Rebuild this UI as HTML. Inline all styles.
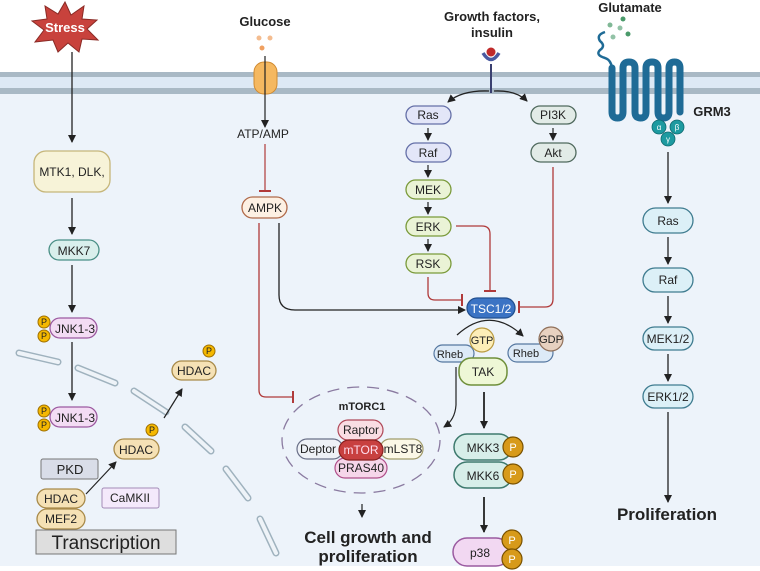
<!DOCTYPE html>
<html><head><meta charset="utf-8"><style>
html,body{margin:0;padding:0;background:#fff}
svg{display:block}
text{font-family:"Liberation Sans",sans-serif;fill:#222}
.b{font-weight:bold}
</style></head><body>
<svg width="760" height="571" viewBox="0 0 760 571" xmlns="http://www.w3.org/2000/svg">
<defs>
<marker id="a" markerWidth="8" markerHeight="8" refX="7" refY="4" orient="auto" markerUnits="userSpaceOnUse"><path d="M0,0 L8,4 L0,8 z" fill="#222"/></marker>
<marker id="t" markerWidth="2" markerHeight="12" refX="1" refY="6" orient="auto" markerUnits="userSpaceOnUse"><rect x="0" y="0" width="2" height="12" fill="#b03a3a"/></marker>
</defs>
<rect x="0" y="0" width="760" height="566" fill="#edf3fa"/>
<rect x="0" y="0" width="760" height="72" fill="#fff"/>
<rect x="0" y="72" width="760" height="22" fill="#dde9f5"/>
<rect x="0" y="72" width="760" height="5" fill="#a9b9c5"/>
<rect x="0" y="88" width="760" height="6" fill="#a9b9c5"/>

<!-- nuclear envelope -->
<g stroke-linecap="round">
<g stroke="#9fb2be" stroke-width="7">
<line x1="19" y1="353" x2="58" y2="362"/><line x1="78" y1="368" x2="115" y2="383"/><line x1="134" y1="391" x2="166" y2="412"/><line x1="185" y1="427" x2="211" y2="451"/><line x1="226" y1="469" x2="248" y2="498"/><line x1="260" y1="519" x2="276" y2="553"/>
</g>
<g stroke="#eef3f8" stroke-width="4">
<line x1="19" y1="353" x2="58" y2="362"/><line x1="78" y1="368" x2="115" y2="383"/><line x1="134" y1="391" x2="166" y2="412"/><line x1="185" y1="427" x2="211" y2="451"/><line x1="226" y1="469" x2="248" y2="498"/><line x1="260" y1="519" x2="276" y2="553"/>
</g></g>

<!-- Stress -->
<polygon points="65,2 71,15 84,6 82,19 97,20 87,29 98,40 82,39 79,52 68,43 58,52 53,40 35,42 44,30 32,21 47,19 45,6 58,14" fill="#c8423c" stroke="#8a2a25" stroke-width="1"/>
<text x="65" y="32" font-size="13" class="b" text-anchor="middle" style="fill:#fff">Stress</text>
<line x1="72" y1="52" x2="72" y2="142" stroke="#222" stroke-width="1.3" marker-end="url(#a)"/>
<rect x="34" y="151" width="76" height="41" rx="12" fill="#f7f3d8" stroke="#c6b67a" stroke-width="1.3"/>
<text x="72" y="176" font-size="12" text-anchor="middle">MTK1, DLK,</text>
<line x1="72" y1="198" x2="72" y2="234" stroke="#222" stroke-width="1.3" marker-end="url(#a)"/>
<rect x="49" y="240" width="50" height="20" rx="10" fill="#d9efec" stroke="#4a8f86" stroke-width="1.3"/>
<text x="74" y="255" font-size="12" text-anchor="middle">MKK7</text>
<line x1="72" y1="265" x2="72" y2="312" stroke="#222" stroke-width="1.3" marker-end="url(#a)"/>
<rect x="50" y="318" width="47" height="20" rx="10" fill="#f3dcf4" stroke="#9c5aa0" stroke-width="1.3"/>
<text x="75" y="333" font-size="12" text-anchor="middle">JNK1-3</text>
<line x1="72" y1="342" x2="72" y2="400" stroke="#222" stroke-width="1.3" marker-end="url(#a)"/>
<rect x="50" y="407" width="47" height="20" rx="10" fill="#f3dcf4" stroke="#9c5aa0" stroke-width="1.3"/>
<text x="75" y="422" font-size="12" text-anchor="middle">JNK1-3</text>
<g fill="#f5b800" stroke="#a07000" stroke-width="1">
<circle cx="44" cy="322" r="6"/><circle cx="44" cy="336" r="6"/><circle cx="44" cy="411" r="6"/><circle cx="44" cy="425" r="6"/>
<circle cx="152" cy="430" r="6"/><circle cx="209" cy="351" r="6"/></g>
<g font-size="9" text-anchor="middle"><text x="44" y="325">P</text><text x="44" y="339">P</text><text x="44" y="414">P</text><text x="44" y="428">P</text><text x="152" y="433">P</text><text x="209" y="354">P</text></g>
<rect x="172" y="361" width="44" height="19" rx="9.5" fill="#f5e1b5" stroke="#a88a4a" stroke-width="1.3"/>
<text x="194" y="375" font-size="12" text-anchor="middle">HDAC</text>
<rect x="114" y="439" width="45" height="20" rx="10" fill="#f5e1b5" stroke="#a88a4a" stroke-width="1.3"/>
<text x="136" y="454" font-size="12" text-anchor="middle">HDAC</text>
<rect x="41" y="459" width="57" height="20" rx="2" fill="#d9dde8" stroke="#777" stroke-width="1"/>
<text x="70" y="474" font-size="13" text-anchor="middle">PKD</text>
<rect x="37" y="489" width="48" height="19" rx="9.5" fill="#f5e1b5" stroke="#a88a4a" stroke-width="1.3"/>
<text x="61" y="503" font-size="12" text-anchor="middle">HDAC</text>
<rect x="37" y="509" width="48" height="20" rx="10" fill="#f5e1b5" stroke="#a88a4a" stroke-width="1.3"/>
<text x="61" y="523" font-size="12" text-anchor="middle">MEF2</text>
<rect x="102" y="488" width="57" height="20" rx="2" fill="#f4e9fb" stroke="#a38bb7" stroke-width="1"/>
<text x="130" y="502" font-size="12" text-anchor="middle">CaMKII</text>
<rect x="36" y="530" width="140" height="24" fill="#dedede" stroke="#777" stroke-width="1"/>
<text x="106" y="549" font-size="19" text-anchor="middle">Transcription</text>
<line x1="86" y1="494" x2="116" y2="462" stroke="#222" stroke-width="1.2" marker-end="url(#a)"/>
<line x1="164" y1="418" x2="182" y2="389" stroke="#222" stroke-width="1.2" marker-end="url(#a)"/>

<!-- Glucose -->
<text x="265" y="26" font-size="13" class="b" text-anchor="middle">Glucose</text>
<g fill="#f0a060"><circle cx="259" cy="38" r="2.5" opacity=".7"/><circle cx="270" cy="38" r="2.5" opacity=".7"/><circle cx="262" cy="48" r="2.5"/></g>
<rect x="254" y="62" width="23" height="32" rx="10" fill="#f5b860" stroke="#d08a30" stroke-width="1"/>
<line x1="265" y1="56" x2="265" y2="127" stroke="#222" stroke-width="1.2" marker-end="url(#a)"/>
<text x="263" y="138" font-size="12" text-anchor="middle">ATP/AMP</text>
<line x1="265" y1="144" x2="265" y2="191" stroke="#b03a3a" stroke-width="1.2" marker-end="url(#t)"/>
<rect x="242" y="197" width="45" height="21" rx="10.5" fill="#fdf0e3" stroke="#b06a4a" stroke-width="1.3"/>
<text x="265" y="212" font-size="12" text-anchor="middle">AMPK</text>
<path d="M259,223 V390 Q259,397 266,397 H293" fill="none" stroke="#b03a3a" stroke-width="1.3" marker-end="url(#t)"/>
<path d="M279,223 V295 Q279,310 295,310 H465" fill="none" stroke="#222" stroke-width="1.3" marker-end="url(#a)"/>

<!-- Growth factors -->
<text x="492" y="21" font-size="13" class="b" text-anchor="middle">Growth factors,</text>
<text x="492" y="37" font-size="13" class="b" text-anchor="middle">insulin</text>
<path d="M483,53 Q491,66 499,53" fill="none" stroke="#4a5aa0" stroke-width="3.5"/>
<circle cx="491" cy="52" r="4.5" fill="#c02a2a"/>
<line x1="491" y1="64" x2="491" y2="93" stroke="#3a4070" stroke-width="2"/>
<path d="M489,91 Q462,90 448,102" fill="none" stroke="#222" stroke-width="1.3" marker-end="url(#a)"/>
<path d="M494,91 Q516,90 527,101" fill="none" stroke="#222" stroke-width="1.3" marker-end="url(#a)"/>
<g stroke-width="1.3" font-size="12" text-anchor="middle">
<rect x="406" y="106" width="45" height="18" rx="9" fill="#e3e6f8" stroke="#6570a8"/>
<rect x="406" y="143" width="45" height="19" rx="9.5" fill="#e3e6f8" stroke="#6570a8"/>
<rect x="406" y="180" width="45" height="19" rx="9.5" fill="#eaf3d6" stroke="#7a9a3a"/>
<rect x="406" y="217" width="45" height="19" rx="9.5" fill="#eaf3d6" stroke="#7a9a3a"/>
<rect x="406" y="254" width="45" height="19" rx="9.5" fill="#eaf3d6" stroke="#7a9a3a"/>
<rect x="531" y="106" width="45" height="18" rx="9" fill="#e2ebe7" stroke="#506a5e"/>
<rect x="531" y="143" width="45" height="19" rx="9.5" fill="#e2ebe7" stroke="#506a5e"/>
</g>
<g font-size="12" text-anchor="middle">
<text x="428" y="119">Ras</text><text x="428" y="157">Raf</text><text x="428" y="194">MEK</text><text x="428" y="231">ERK</text><text x="428" y="268">RSK</text>
<text x="553" y="119">PI3K</text><text x="553" y="157">Akt</text></g>
<g stroke="#222" stroke-width="1.2" marker-end="url(#a)">
<line x1="428" y1="128" x2="428" y2="140"/><line x1="428" y1="165" x2="428" y2="177"/><line x1="428" y1="202" x2="428" y2="214"/><line x1="428" y1="239" x2="428" y2="251"/><line x1="553" y1="128" x2="553" y2="140"/></g>
<g fill="none" stroke="#b03a3a" stroke-width="1.3" marker-end="url(#t)">
<path d="M456,226 H482 Q490,226 490,234 V291"/>
<path d="M428,277 V293 Q428,300 435,300 H462"/>
<path d="M553,167 V299 Q553,307 545,307 H519"/>
</g>
<rect x="467" y="298" width="48" height="20" rx="10" fill="#3b73c4" stroke="#23508f" stroke-width="1.3"/>
<text x="491" y="313" font-size="12" text-anchor="middle" style="fill:#fff">TSC1/2</text>
<path d="M457,335 Q490,305 523,336" fill="none" stroke="#222" stroke-width="1.3" marker-end="url(#a)"/>
<rect x="434" y="345" width="40" height="17" rx="8.5" fill="#ddeaf7" stroke="#5577a0" stroke-width="1.2"/>
<text x="450" y="358" font-size="11" text-anchor="middle">Rheb</text>
<circle cx="482" cy="340" r="12" fill="#fdeeb8" stroke="#b99a40" stroke-width="1.2"/>
<text x="482" y="344" font-size="11" text-anchor="middle">GTP</text>
<rect x="459" y="358" width="48" height="27" rx="12" fill="#eef7d6" stroke="#6f8f3a" stroke-width="1.5"/>
<text x="483" y="376" font-size="12" text-anchor="middle">TAK</text>
<rect x="508" y="344" width="45" height="18" rx="9" fill="#ddeaf7" stroke="#5577a0" stroke-width="1.2"/>
<text x="526" y="357" font-size="11" text-anchor="middle">Rheb</text>
<circle cx="551" cy="339" r="12" fill="#e7d1c0" stroke="#90705a" stroke-width="1.2"/>
<text x="551" y="343" font-size="11" text-anchor="middle">GDP</text>
<path d="M456,367 V405 Q455,420 444,427" fill="none" stroke="#222" stroke-width="1.2" marker-end="url(#a)"/>

<!-- mTORC1 -->
<ellipse cx="361" cy="440" rx="79" ry="53" fill="none" stroke="#8a7aa0" stroke-width="1.3" stroke-dasharray="12,8"/>
<text x="362" y="410" font-size="11" class="b" text-anchor="middle">mTORC1</text>
<rect x="338" y="420" width="45" height="20" rx="10" fill="#f9dde3" stroke="#b04a5a" stroke-width="1.2"/>
<text x="361" y="434" font-size="12" text-anchor="middle">Raptor</text>
<rect x="335" y="458" width="52" height="20" rx="10" fill="#f6d6ea" stroke="#b0508a" stroke-width="1.2"/>
<text x="361" y="472" font-size="12" text-anchor="middle">PRAS40</text>
<rect x="297" y="439" width="46" height="20" rx="10" fill="#eef1f6" stroke="#6a7088" stroke-width="1.2"/>
<text x="318" y="453" font-size="12" text-anchor="middle">Deptor</text>
<rect x="380" y="439" width="43" height="20" rx="10" fill="#fbf8e6" stroke="#a09a6a" stroke-width="1.2"/>
<text x="403" y="453" font-size="12" text-anchor="middle">mLST8</text>
<rect x="339" y="440" width="44" height="20" rx="10" fill="#c84040" stroke="#8a2020" stroke-width="1.2"/>
<text x="361" y="454" font-size="12" text-anchor="middle" style="fill:#fde">mTOR</text>
<line x1="362" y1="504" x2="362" y2="517" stroke="#222" stroke-width="1.2" marker-end="url(#a)"/>
<text x="368" y="543" font-size="17" class="b" text-anchor="middle">Cell growth and</text>
<text x="368" y="562" font-size="17" class="b" text-anchor="middle">proliferation</text>

<!-- p38 branch -->
<line x1="484" y1="392" x2="484" y2="428" stroke="#222" stroke-width="1.8" marker-end="url(#a)"/>
<rect x="454" y="434" width="58" height="26" rx="13" fill="#d7eee9" stroke="#3e7a6e" stroke-width="1.5"/>
<text x="483" y="452" font-size="12" text-anchor="middle">MKK3</text>
<rect x="454" y="462" width="58" height="26" rx="13" fill="#d7eee9" stroke="#3e7a6e" stroke-width="1.5"/>
<text x="483" y="480" font-size="12" text-anchor="middle">MKK6</text>
<line x1="484" y1="497" x2="484" y2="532" stroke="#222" stroke-width="1.8" marker-end="url(#a)"/>
<rect x="453" y="538" width="57" height="28" rx="14" fill="#f2d8f2" stroke="#9a5aa0" stroke-width="1.5"/>
<text x="480" y="557" font-size="12" text-anchor="middle">p38</text>
<g fill="#d79a1a" stroke="#7a5200" stroke-width="1.2"><circle cx="513" cy="447" r="10"/><circle cx="513" cy="474" r="10"/><circle cx="512" cy="540" r="10"/><circle cx="512" cy="559" r="10"/></g>
<g font-size="11" text-anchor="middle"><text x="513" y="451" style="fill:#fff">P</text><text x="513" y="478" style="fill:#fff">P</text><text x="512" y="544" style="fill:#fff">P</text><text x="512" y="563" style="fill:#fff">P</text></g>

<!-- Glutamate / GRM3 -->
<text x="630" y="12" font-size="13" class="b" text-anchor="middle">Glutamate</text>
<g fill="#4a9a6a"><circle cx="623" cy="19" r="2.5"/><circle cx="610" cy="25" r="2.5" opacity=".7"/><circle cx="620" cy="28" r="2.5" opacity=".6"/><circle cx="628" cy="34" r="2.5"/><circle cx="613" cy="37" r="2.5" opacity=".6"/></g>
<path d="M605,32 Q596,35 600,41 Q606,46 600,50 Q595,55 605,58 Q611,60 612,68" fill="none" stroke="#1f6b96" stroke-width="2.5"/>
<g fill="none" stroke="#1f6b96" stroke-width="7" stroke-linecap="round">
<path d="M612,68 V112 Q612,118 617.5,118 Q623,118 623,112 V68 Q623,62 629,62 Q635,62 635,68 V112 Q635,118 640.5,118 Q646,118 646,112 V68 Q646,62 652,62 Q658,62 658,68 V112 Q658,118 663.5,118 Q669,118 669,112 V68 Q669,62 674.5,62 Q680,62 680,68 V112"/>
</g>
<g fill="#1d9aa0" stroke="#0e6a70" stroke-width="0.8"><circle cx="659" cy="127" r="7"/><circle cx="677" cy="127" r="7"/><circle cx="668" cy="139" r="7"/></g>
<g font-size="8" text-anchor="middle"><text x="659" y="130" style="fill:#fff">α</text><text x="677" y="130" style="fill:#fff">β</text><text x="668" y="142" style="fill:#fff">γ</text></g>
<text x="712" y="116" font-size="13" class="b" text-anchor="middle">GRM3</text>
<line x1="668" y1="152" x2="668" y2="203" stroke="#222" stroke-width="1.3" marker-end="url(#a)"/>
<g fill="#dcf0f7" stroke="#3f7c90" stroke-width="1.3">
<rect x="643" y="208" width="50" height="25" rx="12.5"/><rect x="643" y="268" width="50" height="24" rx="12"/><rect x="643" y="327" width="50" height="23" rx="11.5"/><rect x="643" y="385" width="50" height="23" rx="11.5"/></g>
<g font-size="12" text-anchor="middle"><text x="668" y="225">Ras</text><text x="668" y="284">Raf</text><text x="668" y="343">MEK1/2</text><text x="668" y="401">ERK1/2</text></g>
<g stroke="#222" stroke-width="1.3" marker-end="url(#a)">
<line x1="668" y1="237" x2="668" y2="264"/><line x1="668" y1="296" x2="668" y2="323"/><line x1="668" y1="354" x2="668" y2="381"/><line x1="668" y1="412" x2="668" y2="502"/></g>
<text x="667" y="520" font-size="17" class="b" text-anchor="middle">Proliferation</text>
</svg>
</body></html>
